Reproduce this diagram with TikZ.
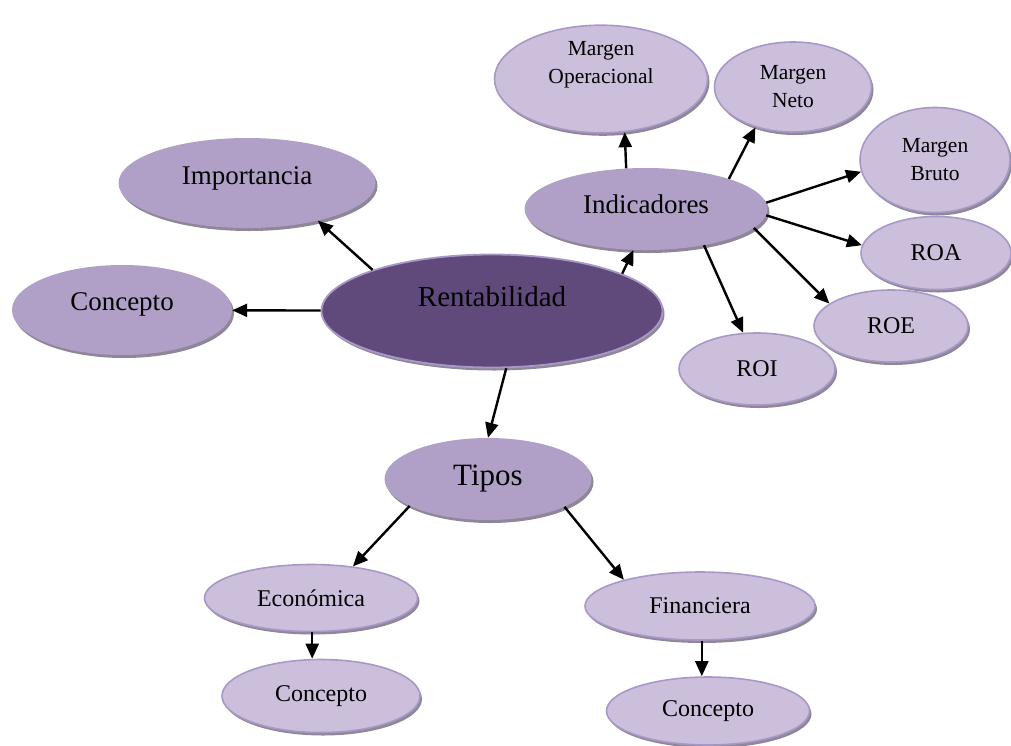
\documentclass[tikz,border=0pt]{standalone}
\usepackage{fontspec}
\setmainfont{Liberation Serif}
\usetikzlibrary{arrows.meta,shapes.geometric,shadows}
\definecolor{darkplum}{HTML}{5F4A7B}
\definecolor{midplum}{HTML}{B0A0C7}
\definecolor{lightplum}{HTML}{CBBFDB}
\definecolor{plumedge}{HTML}{A898C8}
\definecolor{shadowgray}{HTML}{8F8798}
\tikzset{
  bubble/.style={ellipse, inner sep=0pt, align=center, text=black,
                 drop shadow={shadow xshift=2pt, shadow yshift=-3pt, fill=shadowgray, opacity=1}},
  rootbubble/.style={bubble, fill=darkplum, draw=plumedge, line width=1.8pt, font=\fontsize{29}{34}\selectfont},
  midbubble/.style={bubble, fill=midplum, font=\fontsize{27}{32}\selectfont},
  leafbubble/.style={bubble, fill=lightplum, draw=plumedge, line width=1.6pt, font=\fontsize{24}{29}\selectfont},
  smallbubble/.style={leafbubble, font=\fontsize{21.5}{28}\selectfont},
  arr/.style={-{Triangle[length=15pt,width=13pt]}, line width=2.4pt},
}
\begin{document}
\begin{tikzpicture}[x=1pt,y=-1pt]
  \useasboundingbox (0,0) rectangle (1011,745);
  \node[rootbubble, minimum width=341pt, minimum height=113pt, text depth=30pt] (rent) at (492,311) {Rentabilidad};
  \node[midbubble, minimum width=257pt, minimum height=90pt, text depth=14pt] (imp) at (247,183) {Importancia};
  \node[midbubble, minimum width=220pt, minimum height=90pt, text depth=16pt] (concl) at (122,310) {Concepto};
  \node[midbubble, minimum width=243pt, minimum height=82pt, text depth=10pt] (ind) at (646,209) {Indicadores};
  \node[midbubble, minimum width=207pt, minimum height=82pt, font=\fontsize{31}{36}\selectfont] (tipos) at (488,479) {Tipos};
  \node[smallbubble, minimum width=213pt, minimum height=82pt, text depth=34pt] (mop) at (601,79) {Margen\\Operacional};
  \node[smallbubble, minimum width=157pt, minimum height=90pt] (mneto) at (793,87) {Margen\\Neto};
  \node[smallbubble, minimum width=150pt, minimum height=105pt] (mbruto) at (935,160) {Margen\\Bruto};
  \node[leafbubble, minimum width=150pt, minimum height=73pt] (roa) at (936,253) {ROA};
  \node[leafbubble, minimum width=154pt, minimum height=72pt] (roe) at (891,326) {ROE};
  \node[leafbubble, minimum width=156pt, minimum height=72pt] (roi) at (757,369) {ROI};
  \node[leafbubble, minimum width=213pt, minimum height=67pt] (eco) at (311,598) {Económica};
  \node[leafbubble, minimum width=198pt, minimum height=73pt] (concbl) at (321,696) {Concepto};
  \node[leafbubble, minimum width=230pt, minimum height=68pt] (fin) at (700,606) {Financiera};
  \node[leafbubble, minimum width=203pt, minimum height=68pt] (concbr) at (708,711) {Concepto};
  \draw[arr] (rent) -- (concl);
  \draw[arr] (rent.161) -- (imp.-28);
  \draw[arr] (rent.16) -- (ind.-107);
  \draw[arr] (rent.-76) -- (tipos.north);
  \draw[arr] (ind.116) -- (mop.-66);
  \draw[arr] (ind.20) -- (mneto.-133);
  \draw[arr] (ind.3) -- (mbruto.-171);
  \draw[arr] (ind.-3) -- (roa.174);
  \draw[arr] (ind.-10) -- (roe.160);
  \draw[arr] (ind.-32) -- (roi.111);
  \draw[arr] (tipos.-161) -- (eco.37);
  \draw[arr] (tipos.-20) -- (fin.161);
  \draw[arr] (eco.-88) -- (eco.-88 |- concbl.north);
  \draw[arr] (fin.-87) -- (fin.-87 |- concbr.north);
\end{tikzpicture}
\end{document}
